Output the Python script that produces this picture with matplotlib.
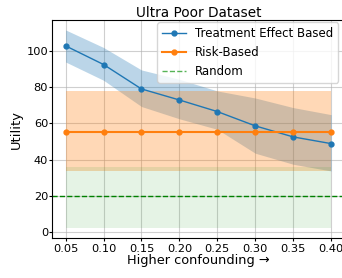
import numpy as np
import matplotlib
matplotlib.use("Agg")
import matplotlib.pyplot as plt

# confounding levels on the x axis
confounding = [0.05, 0.10, 0.15, 0.20, 0.25, 0.30, 0.35, 0.40]
x_ticks = ["0.05", "0.10", "0.15", "0.20", "0.25", "0.30", "0.35", "0.40"]

# treatment effect based policy (mean and band)
te_mean = [102.8, 92.5, 79.0, 72.9, 66.5, 58.6, 52.5, 48.8]
te_upper = [111.6, 101.9, 89.5, 84.3, 77.9, 74.0, 68.7, 64.8]
te_lower = [93.9, 83.8, 69.3, 62.5, 56.7, 43.5, 37.4, 33.7]

# risk-based policy (constant across confounding)
risk_mean = [55.4] * 8
risk_upper = [77.6] * 8
risk_lower = [33.5] * 8

# random policy
random_mean = 19.6
random_upper = [36.1] * 8
random_lower = [2.0] * 8

fig = plt.figure(figsize=(3.42, 2.78), dpi=100)
ax = fig.add_axes([0.153, 0.143, 0.854, 0.785])

ax.plot(confounding, te_mean, marker='o', markersize=3.5, linewidth=1.0, color='C0',
        label='Treatment Effect Based')
ax.fill_between(confounding, te_lower, te_upper, color='C0', alpha=0.3, linewidth=0)

ax.plot(confounding, risk_mean, marker='o', markersize=3.5, linewidth=1.5, color='C1',
        label='Risk-Based')
ax.fill_between(confounding, risk_lower, risk_upper, color='C1', alpha=0.3, linewidth=0)

ax.axhline(random_mean, color='green', linestyle='--', linewidth=1)
ax.plot([], [], linestyle='--', color='C2', alpha=0.8, linewidth=1, label='Random')
ax.fill_between(confounding, random_lower, random_upper, color='C2', alpha=0.12, linewidth=0)

ax.set_xticks(confounding)
ax.set_xticklabels(x_ticks)
ax.set_yticks([0, 20, 40, 60, 80, 100])
ax.tick_params(labelsize=8.2, length=2)
ax.tick_params(axis='x', pad=1.8)
ax.tick_params(axis='y', pad=1)
ax.grid(True, alpha=0.6)
ax.set_axisbelow(True)

ax.set_title("Ultra Poor Dataset", fontsize=9.8, pad=2)
ax.set_xlabel("Higher confounding \u2192", fontsize=9.3, labelpad=0.5)
ax.set_ylabel("Utility", fontsize=9.4, labelpad=2.5)
ax.legend(loc='upper right', fontsize=8.5, framealpha=0.8,
          bbox_to_anchor=(0.986, 1.0), borderaxespad=0.2)

fig.savefig("out.png", dpi=100)
